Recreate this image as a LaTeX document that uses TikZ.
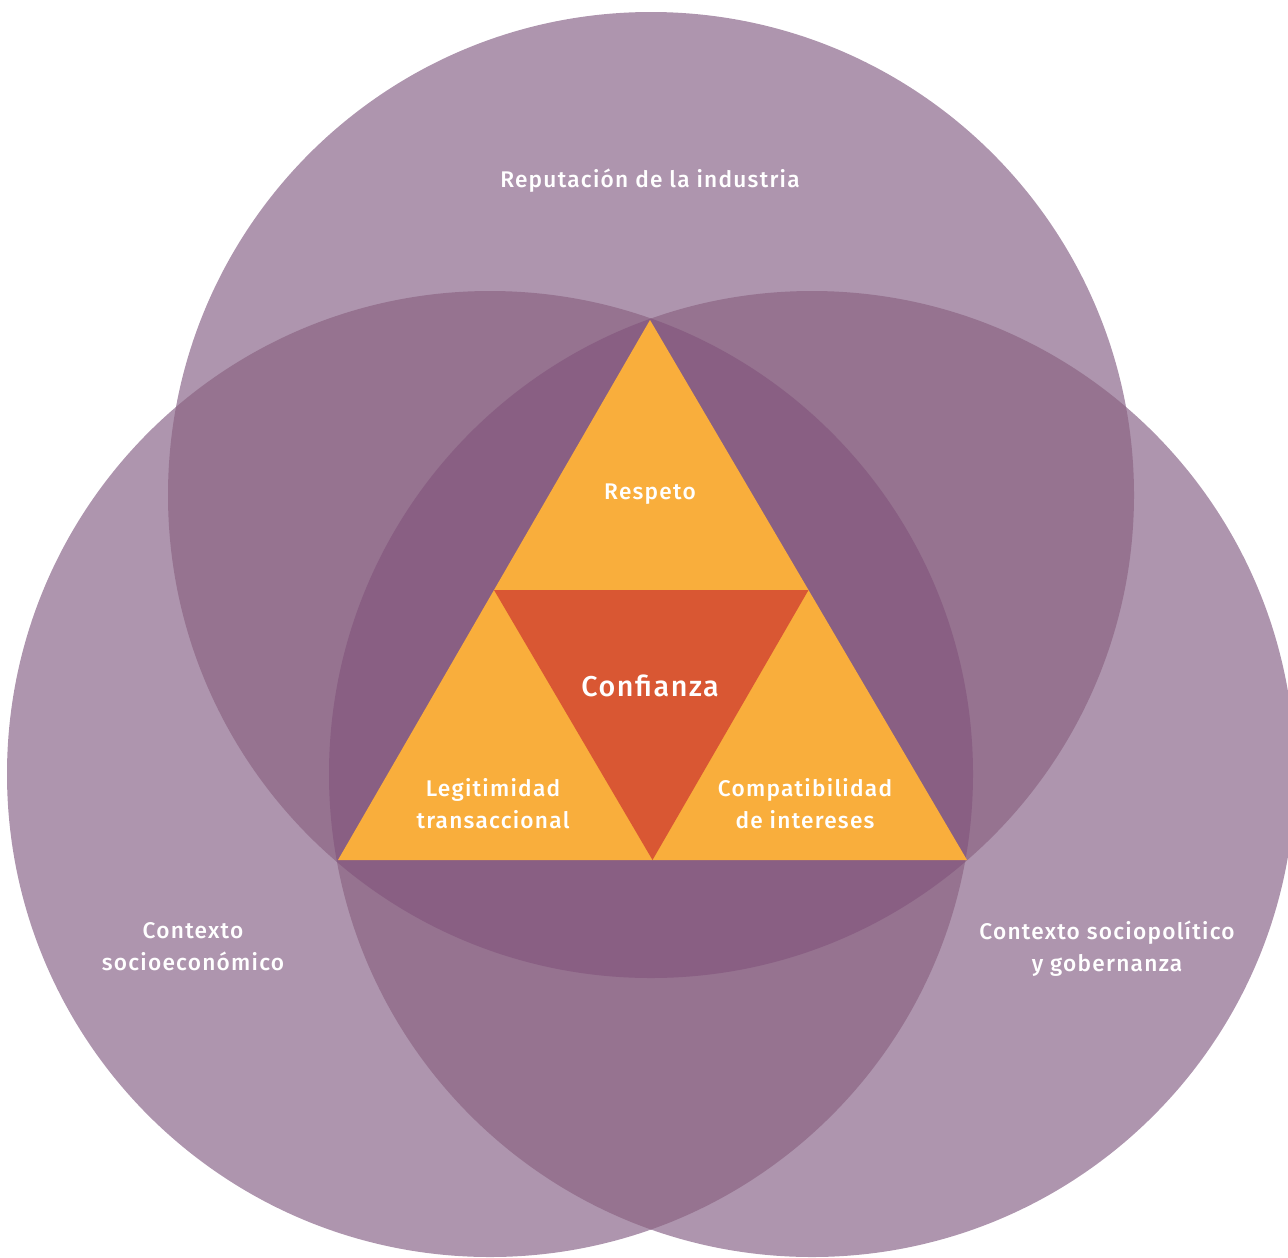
\documentclass[tikz,border=0pt]{standalone}
\usepackage{fontspec}
\setmainfont{Fira Sans}
\newfontfamily\lblfont[LetterSpace=5.5]{Fira Sans Medium}
\definecolor{lightp}{HTML}{AE95AE}
\definecolor{midp}{HTML}{967390}
\definecolor{darkp}{HTML}{895F83}
\definecolor{orng}{HTML}{F9AE3C}
\definecolor{redo}{HTML}{D95733}
\begin{document}
\begin{tikzpicture}[x=0.75pt,y=-0.75pt,
  lbl/.style={text=white,font=\lblfont\fontsize{17}{24}\selectfont,align=center,inner sep=0pt},
  big/.style={text=white,font=\lblfont\fontsize{21.5}{24}\selectfont,inner sep=0pt}]
\useasboundingbox (0,0) rectangle (1288,1257);
\coordinate (ct) at (651,495);
\coordinate (cl) at (490,774);
\coordinate (cr) at (812,774);
\def\rr{483}
% single circles
\fill[lightp] (ct) circle[radius=\rr];
\fill[lightp] (cl) circle[radius=\rr];
\fill[lightp] (cr) circle[radius=\rr];
% pairwise overlaps
\begin{scope}
  \clip (ct) circle[radius=\rr];
  \fill[midp] (cl) circle[radius=\rr];
  \fill[midp] (cr) circle[radius=\rr];
\end{scope}
\begin{scope}
  \clip (cl) circle[radius=\rr];
  \fill[midp] (cr) circle[radius=\rr];
\end{scope}
% triple overlap
\begin{scope}
  \clip (ct) circle[radius=\rr];
  \clip (cl) circle[radius=\rr];
  \fill[darkp] (cr) circle[radius=\rr];
\end{scope}
% triangles
\coordinate (tT) at (650,320);
\coordinate (tL) at (338,860);
\coordinate (tR) at (967,860);
\coordinate (mL) at (494,590);
\coordinate (mR) at (808.5,590);
\coordinate (mB) at (652.5,860);
\fill[orng] (tT) -- (tL) -- (tR) -- cycle;
\fill[redo] (mL) -- (mR) -- (mB) -- cycle;
% labels
\node[lbl] (rep) at (650,181) {Reputación de la industria};
\node[lbl] (res) at (650,494) {Respeto};
\node[big] (con) at (650,686) {Confianza};
\node[lbl] (leg) at (493,804) {Legitimidad\\transaccional};
\node[lbl] (com) at (805,804) {Compatibilidad\\de intereses};
\node[lbl] (soc) at (193,947) {Contexto\\socioeconómico};
\node[lbl] (pol) at (1107,949) {Contexto sociopolítico\\y gobernanza};
\end{tikzpicture}
\end{document}
